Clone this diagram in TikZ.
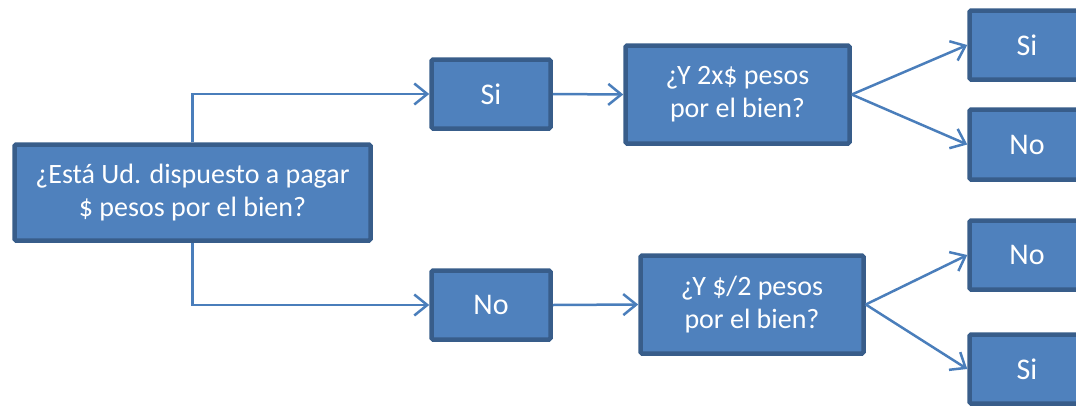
\documentclass[tikz,border=0pt]{standalone}
\usepackage{fontspec}
\setmainfont{Carlito}
\usetikzlibrary{arrows.meta}
\definecolor{boxfill}{HTML}{4F81BD}
\definecolor{boxline}{HTML}{385D8A}
\definecolor{conn}{HTML}{4A7EBB}
\begin{document}
\begin{tikzpicture}[x=1pt,y=-1pt,
  box/.style={draw=boxline, fill=boxfill, line width=4.5pt, rounded corners=1.5pt,
    text=white, font=\fontsize{28}{33}\selectfont, align=center, inner sep=0pt},
  small/.style={box, font=\fontsize{30}{33}\selectfont},
  conn/.style={draw=conn, line width=2.5pt, -{Straight Barb[length=13pt,width=21pt,line width=2.5pt]}}]
\useasboundingbox (0,0) rectangle (1076,405);
\clip (0,0) rectangle (1076,405);
\node[box, minimum width=356pt, minimum height=96pt] (main) at (192.5,192.5) {¿Está Ud. dispuesto a pagar\\\$ pesos por el bien?};
\node[small, minimum width=119pt, minimum height=69pt] (si1) at (491,94) {Si};
\node[box, minimum width=224pt, minimum height=98pt] (q1) at (737.5,94.5) {¿Y 2x\$ pesos\\por el bien?};
\node[small, minimum width=115pt, minimum height=69pt] (r1) at (1027,45) {Si};
\node[small, minimum width=115pt, minimum height=70pt] (r2) at (1027,144.5) {No};
\node[small, minimum width=119pt, minimum height=69pt] (no1) at (491,305) {No};
\node[box, minimum width=223pt, minimum height=98pt] (q2) at (752,304.5) {¿Y \$/2 pesos\\por el bien?};
\node[small, minimum width=115pt, minimum height=69pt] (r3) at (1027,255) {No};
\node[small, minimum width=115pt, minimum height=69pt] (r4) at (1027,369) {Si};
\draw[conn] (main.north) |- (si1.west);
\draw[conn] (main.south) |- (no1.west);
\draw[conn] (si1.east) -- (q1.west);
\draw[conn] (no1.east) -- (q2.west);
\draw[conn] (q1.east) -- (r1.west);
\draw[conn] (q1.east) -- (r2.west);
\draw[conn] (q2.east) -- (r3.west);
\draw[conn] (q2.east) -- (r4.west);
\end{tikzpicture}
\end{document}
